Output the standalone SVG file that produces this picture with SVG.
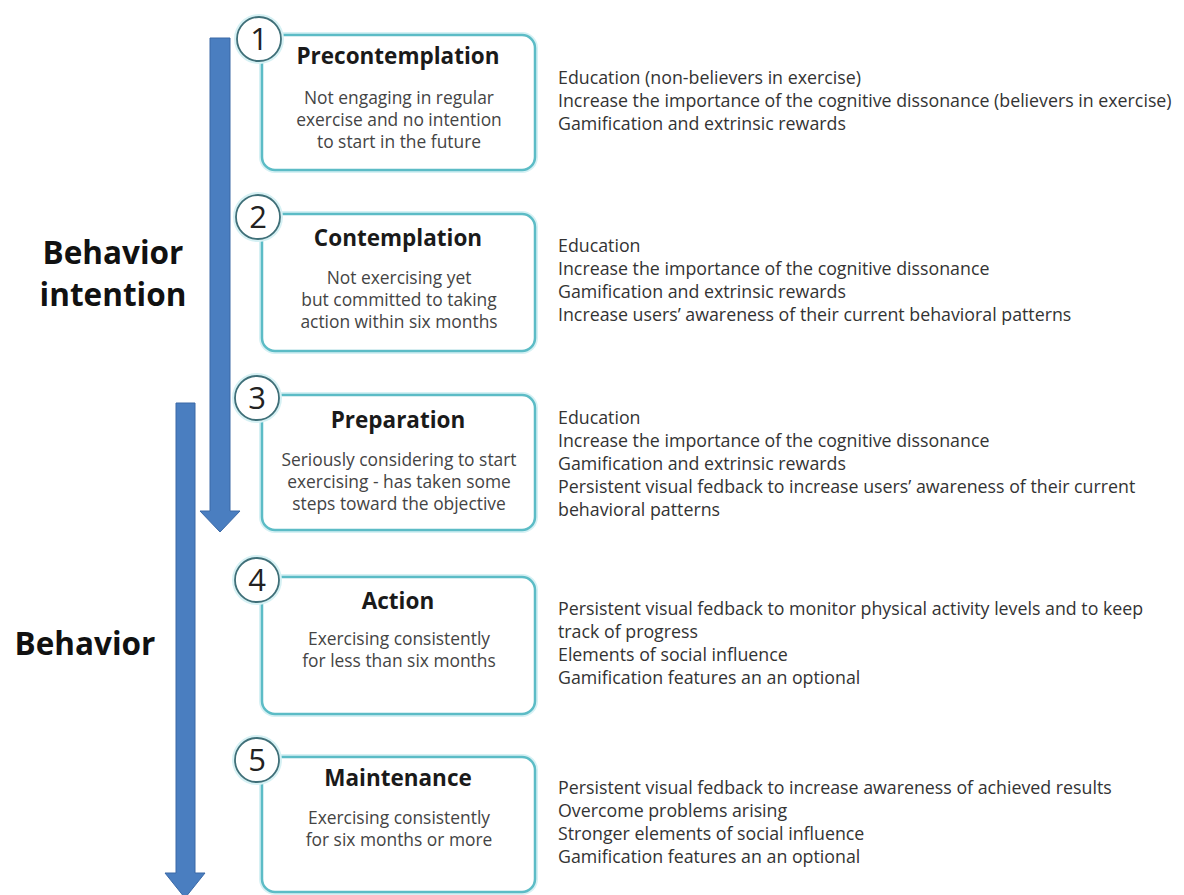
<svg xmlns="http://www.w3.org/2000/svg" width="1184" height="895" viewBox="0 0 1184 895">
  <style>
    .box { fill: #ffffff; stroke: #5cbcc6; stroke-width: 2.5; }
    .halo { fill: none; stroke: #d6f1f4; stroke-width: 6; }
    .num-circle { fill: #ffffff; stroke: #3f6f78; stroke-width: 1.8; }
    .num { font-family: "Open Sans", "Noto Sans", sans-serif; font-size: 31px; fill: #222; text-anchor: middle; }
    .title { font-family: "Open Sans", "Noto Sans", sans-serif; font-weight: bold; font-size: 22.5px; fill: #1a1a1a; text-anchor: middle; }
    .body { font-family: "Open Sans", "Noto Sans", sans-serif; font-size: 17.4px; fill: #444; text-anchor: middle; }
    .side { font-family: "Open Sans", "Noto Sans", sans-serif; font-size: 17.8px; fill: #333; }
    .phase { font-family: "Open Sans", "Noto Sans", sans-serif; font-weight: bold; font-size: 31.5px; fill: #111; text-anchor: middle; }
    .arrow { fill: #4a7ec0; stroke: #3a68a6; stroke-width: 1; }
  </style>

  <rect width="1184" height="895" fill="#ffffff"/>

  <!-- phase arrows -->
  <g id="connectors">
    <path class="arrow" d="M210,38 H230 V511 H240 L220,532 L200,511 H210 Z"/>
    <path class="arrow" d="M176,403 H195 V873 H205 L185,898 L165,873 H176 Z"/>
  </g>

  <g id="label-intention">
    <text class="phase" x="113" y="264">Behavior</text>
    <text class="phase" x="113" y="306">intention</text>
  </g>
  <g id="label-behavior">
    <text class="phase" x="85" y="655">Behavior</text>
  </g>

  <!-- stage 1 -->
  <g id="stage1">
    <rect class="halo" x="262" y="35" width="273" height="135" rx="13"/>
    <rect class="box" x="262" y="35" width="273" height="135" rx="13"/>
    <circle class="halo" cx="259" cy="39" r="22"/>
    <circle class="num-circle" cx="259" cy="39" r="22"/>
    <text class="num" x="259" y="50">1</text>
    <text class="title" x="398" y="64">Precontemplation</text>
    <text class="body" x="399" y="104">Not engaging in regular</text>
    <text class="body" x="399" y="126">exercise and no intention</text>
    <text class="body" x="399" y="148">to start in the future</text>
  </g>
  <g id="strategies1">
    <text class="side" x="558" y="84">Education (non-believers in exercise)</text>
    <text class="side" x="558" y="107">Increase the importance of the cognitive dissonance (believers in exercise)</text>
    <text class="side" x="558" y="130">Gamification and extrinsic rewards</text>
  </g>

  <!-- stage 2 -->
  <g id="stage2">
    <rect class="halo" x="262" y="214" width="273" height="137" rx="13"/>
    <rect class="box" x="262" y="214" width="273" height="137" rx="13"/>
    <circle class="halo" cx="258" cy="217" r="22"/>
    <circle class="num-circle" cx="258" cy="217" r="22"/>
    <text class="num" x="258" y="228">2</text>
    <text class="title" x="398" y="246">Contemplation</text>
    <text class="body" x="399" y="284">Not exercising yet</text>
    <text class="body" x="399" y="306">but committed to taking</text>
    <text class="body" x="399" y="328">action within six months</text>
  </g>
  <g id="strategies2">
    <text class="side" x="558" y="252">Education</text>
    <text class="side" x="558" y="275">Increase the importance of the cognitive dissonance</text>
    <text class="side" x="558" y="298">Gamification and extrinsic rewards</text>
    <text class="side" x="558" y="321">Increase users’ awareness of their current behavioral patterns</text>
  </g>

  <!-- stage 3 -->
  <g id="stage3">
    <rect class="halo" x="262" y="395" width="273" height="135" rx="13"/>
    <rect class="box" x="262" y="395" width="273" height="135" rx="13"/>
    <circle class="halo" cx="257" cy="398" r="22"/>
    <circle class="num-circle" cx="257" cy="398" r="22"/>
    <text class="num" x="257" y="409">3</text>
    <text class="title" x="398" y="428">Preparation</text>
    <text class="body" x="399" y="466">Seriously considering to start</text>
    <text class="body" x="399" y="488">exercising - has taken some</text>
    <text class="body" x="399" y="510">steps toward the objective</text>
  </g>
  <g id="strategies3">
    <text class="side" x="558" y="424">Education</text>
    <text class="side" x="558" y="447">Increase the importance of the cognitive dissonance</text>
    <text class="side" x="558" y="470">Gamification and extrinsic rewards</text>
    <text class="side" x="558" y="493">Persistent visual fedback to increase users’ awareness of their current</text>
    <text class="side" x="558" y="516">behavioral patterns</text>
  </g>

  <!-- stage 4 -->
  <g id="stage4">
    <rect class="halo" x="262" y="577" width="273" height="137" rx="13"/>
    <rect class="box" x="262" y="577" width="273" height="137" rx="13"/>
    <circle class="halo" cx="257" cy="580" r="22"/>
    <circle class="num-circle" cx="257" cy="580" r="22"/>
    <text class="num" x="257" y="591">4</text>
    <text class="title" x="398" y="609">Action</text>
    <text class="body" x="399" y="645">Exercising consistently</text>
    <text class="body" x="399" y="667">for less than six months</text>
  </g>
  <g id="strategies4">
    <text class="side" x="558" y="615">Persistent visual fedback to monitor physical activity levels and to keep</text>
    <text class="side" x="558" y="638">track of progress</text>
    <text class="side" x="558" y="661">Elements of social influence</text>
    <text class="side" x="558" y="684">Gamification features an an optional</text>
  </g>

  <!-- stage 5 -->
  <g id="stage5">
    <rect class="halo" x="262" y="757" width="273" height="135" rx="13"/>
    <rect class="box" x="262" y="757" width="273" height="135" rx="13"/>
    <circle class="halo" cx="257" cy="760" r="22"/>
    <circle class="num-circle" cx="257" cy="760" r="22"/>
    <text class="num" x="257" y="771">5</text>
    <text class="title" x="398" y="786">Maintenance</text>
    <text class="body" x="399" y="824">Exercising consistently</text>
    <text class="body" x="399" y="846">for six months or more</text>
  </g>
  <g id="strategies5">
    <text class="side" x="558" y="794">Persistent visual fedback to increase awareness of achieved results</text>
    <text class="side" x="558" y="817">Overcome problems arising</text>
    <text class="side" x="558" y="840">Stronger elements of social influence</text>
    <text class="side" x="558" y="863">Gamification features an an optional</text>
  </g>
</svg>
